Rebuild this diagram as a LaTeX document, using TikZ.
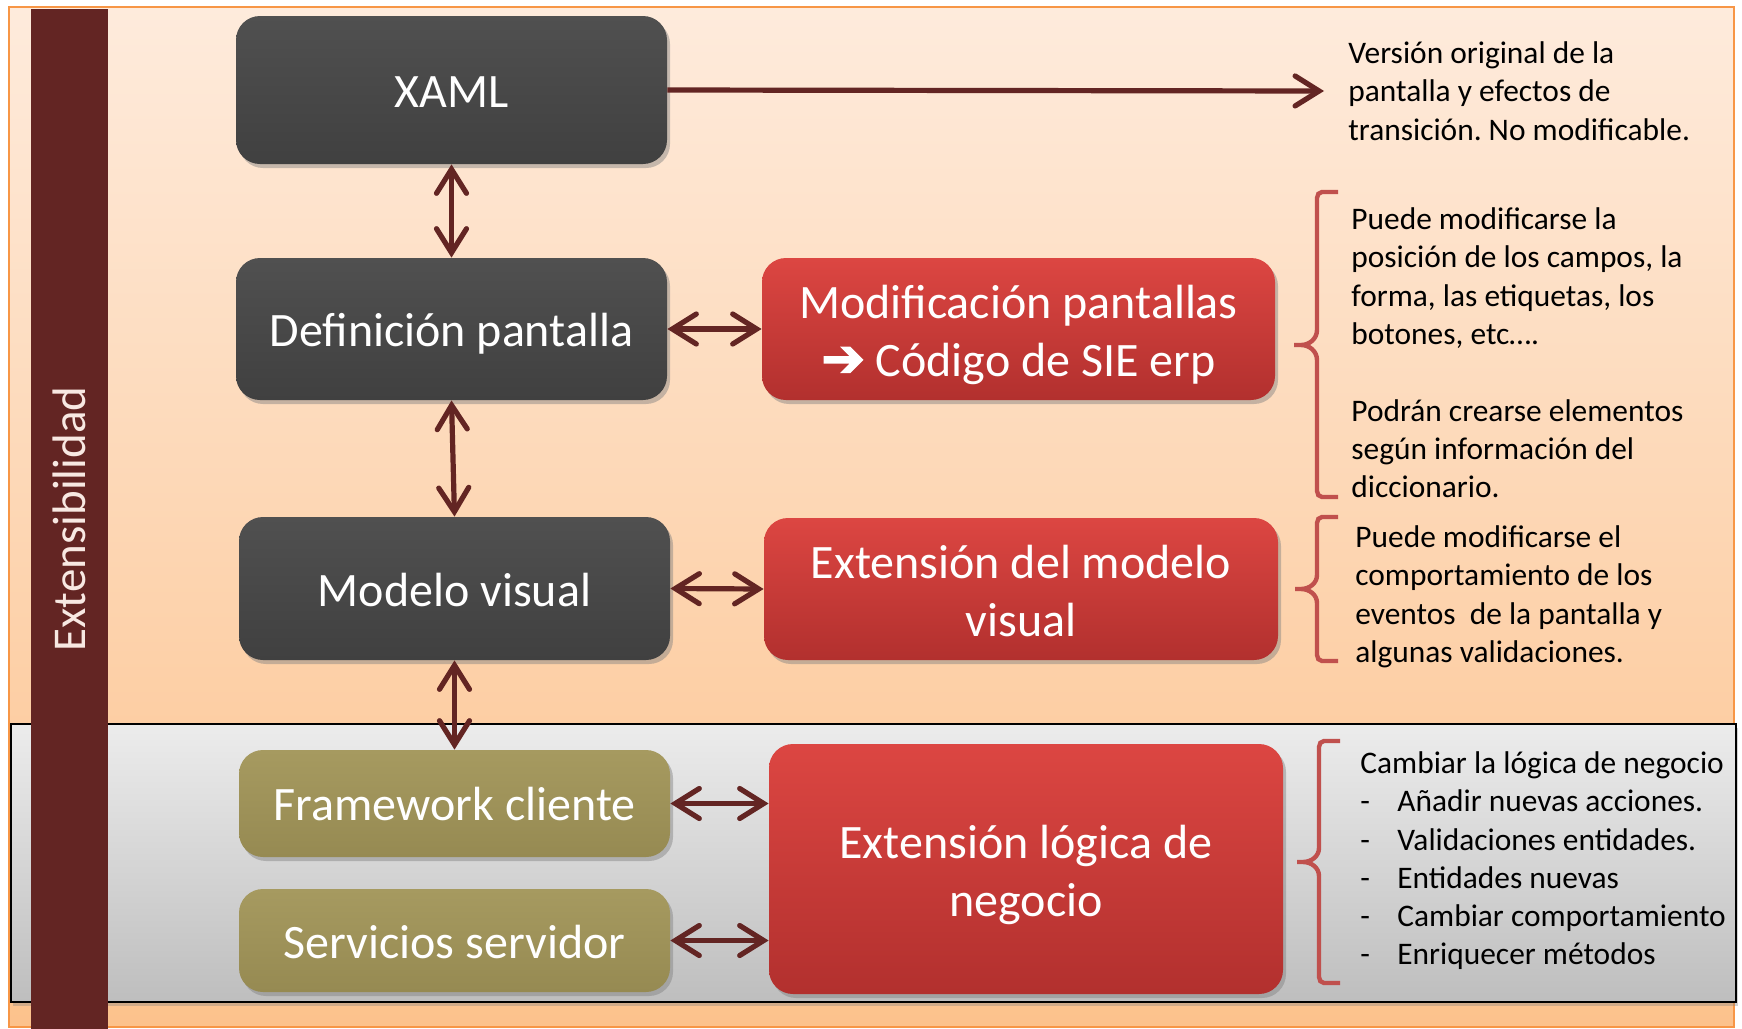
\documentclass[tikz,border=0pt]{standalone}
\usepackage{fontspec}
\setmainfont{Carlito}
\newfontfamily\symfont[FakeBold=3]{DejaVu Sans}
\usetikzlibrary{arrows.meta,shadows}
\frenchspacing
\definecolor{arrowred}{HTML}{632523}
\definecolor{brk}{HTML}{C0504D}
\definecolor{frameorange}{HTML}{F79646}
\definecolor{redtop}{RGB}{220,70,66}
\definecolor{redbot}{RGB}{178,48,46}
\definecolor{olivetop}{RGB}{166,154,96}
\definecolor{olivebot}{RGB}{150,138,82}
\definecolor{darktop}{RGB}{80,80,80}
\definecolor{darkbot}{RGB}{64,64,64}
\definecolor{bgtop}{RGB}{254,235,220}
\definecolor{bgbot}{RGB}{252,194,140}
\definecolor{graytop}{RGB}{236,236,236}
\definecolor{graybot}{RGB}{190,190,190}
\definecolor{barlabel}{RGB}{248,232,226}
\newcommand\bxtext[2]{\raisebox{#1}[\height][\depth]{\begin{tabular}{@{}c@{}}#2\end{tabular}}}
\begin{document}
\begin{tikzpicture}[x=0.5pt,y=-0.5pt,
  box/.style={rounded corners=12pt, inner sep=0pt, text=white, align=center,
    font=\fontsize{24}{29}\selectfont,
    drop shadow={opacity=0.45,shadow xshift=1.5pt,shadow yshift=-2pt}},
  darkbox/.style={box, top color=darktop, bottom color=darkbot},
  redbox/.style={box, top color=redtop, bottom color=redbot},
  olivebox/.style={box, top color=olivetop, bottom color=olivebot},
  desc/.style={anchor=base west, inner sep=0pt, text=black, font=\fontsize{15.7}{19}\selectfont},
  conn/.style={draw=arrowred, line width=2.6pt, {Straight Barb[length=12pt,width=15pt,line cap=round]}-{Straight Barb[length=12pt,width=15pt,line cap=round]}},
  brace/.style={draw=brk, line width=2.2pt, line cap=butt}
]
\useasboundingbox (0,0) rectangle (1742,1029);
\fill[white] (0,0) rectangle (1742,1029);
% orange frame
\draw[frameorange, line width=1.2pt, top color=bgtop, bottom color=bgbot] (9,7) rectangle (1734,1027);
% gray band
\draw[black, line width=1pt, top color=graytop, bottom color=graybot, drop shadow={opacity=0.35,shadow xshift=1pt,shadow yshift=-2pt}] (11,724) rectangle (1736,1002);
% vertical bar
\fill[arrowred] (31,9) rectangle (108,1029);
\node[rotate=90, inner sep=0pt, text=barlabel, font=\fontsize{23.5}{28}\selectfont] (extlabel) at (69,519) {Extensibilidad};

% boxes
\node[darkbox, minimum width=215.5pt, minimum height=74pt] (xaml) at (451.5,90) {\bxtext{-3pt}{XAML}};
\node[darkbox, minimum width=215.5pt, minimum height=71pt] (def) at (451.5,329) {\bxtext{-3pt}{Definición pantalla}};
\node[darkbox, minimum width=215.5pt, minimum height=71.5pt] (mv) at (454.5,588.5) {\bxtext{-3pt}{Modelo visual}};
\node[olivebox, minimum width=215.5pt, minimum height=53.5pt] (fw) at (454.5,803.5) {\bxtext{-2.5pt}{Framework cliente}};
\node[olivebox, minimum width=215.5pt, minimum height=51.5pt] (sv) at (454.5,940.5) {\bxtext{-3pt}{Servicios servidor}};
\node[redbox, minimum width=256.5pt, minimum height=71pt] (mod) at (1018.5,329) {\bxtext{-3.3pt}{Modificación pantallas\\{\symfont\fontsize{26}{29}\selectfont ➔} Código de SIE erp}};
\node[redbox, minimum width=257pt, minimum height=71pt] (emv) at (1021,589) {\bxtext{-3.3pt}{Extensión del modelo\\visual}};
\node[redbox, minimum width=257pt, minimum height=125pt] (el) at (1026,869) {\bxtext{-3.5pt}{Extensión lógica de\\negocio}};

% connectors
\coordinate (xend) at (1324,91);
\draw[draw=arrowred, line width=2.6pt, -{Straight Barb[length=12pt,width=15pt,line cap=round]}] (xaml.east) -- (xend);
\draw[conn] (xaml.south) -- (def.north);
\draw[conn] (def.south) -- (mv.north);
\draw[conn] (mv.south) -- (fw.north);
\draw[conn] (def.east) -- (mod.west);
\draw[conn] (mv.east) -- (emv.west);
\draw[conn] (fw.east) -- (fw.east -| el.west);
\draw[conn] (sv.east) -- (sv.east -| el.west);

% text 1
\node[desc] (t1a) at (1348,63) {Versión original de la};
\node[desc] (t1b) at (1348,101) {pantalla y efectos de};
\node[desc] (t1c) at (1348,140) {transición. No modificable.};

% bracket 1
\draw[brace] (1338,192) -- (1322,192) to[out=180,in=90] (1317,198) -- (1317,330) to[out=-90,in=0] (1301,345) -- (1294,345) -- (1301,345) to[out=0,in=90] (1317,360) -- (1317,491) to[out=-90,in=180] (1322,497) -- (1338,497);
\node[desc] (t2a) at (1351,229) {Puede modificarse la};
\node[desc] (t2b) at (1351,267) {posición de los campos, la};
\node[desc] (t2c) at (1351,306) {forma, las etiquetas, los};
\node[desc] (t2d) at (1351,344) {botones, etc….};
\node[desc] (t2e) at (1351,421) {Podrán crearse elementos};
\node[desc] (t2f) at (1351,459) {según información del};
\node[desc] (t2g) at (1351,497) {diccionario.};

% bracket 2
\draw[brace] (1338,517) -- (1322,517) to[out=180,in=90] (1317,523) -- (1317,575) to[out=-90,in=0] (1301,589) -- (1295,589) -- (1301,589) to[out=0,in=90] (1317,603) -- (1317,655) to[out=-90,in=180] (1322,661) -- (1338,661);
\node[desc] (t3a) at (1355,547) {Puede modificarse el};
\node[desc] (t3b) at (1355,585) {comportamiento de los};
\node[desc] (t3c) at (1355,624) {eventos\ \ de la pantalla y};
\node[desc] (t3d) at (1355,662) {algunas validaciones.};

% bracket 3
\draw[brace] (1340,741) -- (1324,741) to[out=180,in=90] (1319,747) -- (1319,848) to[out=-90,in=0] (1303,862) -- (1297,862) -- (1303,862) to[out=0,in=90] (1319,876) -- (1319,977) to[out=-90,in=180] (1324,983) -- (1340,983);
\node[desc] (t4a) at (1360,773) {Cambiar la lógica de negocio};
\node[desc] (d1) at (1360,811) {-};
\node[desc] (t4b) at (1397,811) {Añadir nuevas acciones.};
\node[desc] (d2) at (1360,850) {-};
\node[desc] (t4c) at (1397,850) {Validaciones entidades.};
\node[desc] (d3) at (1360,888) {-};
\node[desc] (t4d) at (1397,888) {Entidades nuevas};
\node[desc] (d4) at (1360,926) {-};
\node[desc] (t4e) at (1397,926) {Cambiar comportamiento};
\node[desc] (d5) at (1360,964) {-};
\node[desc] (t4f) at (1397,964) {Enriquecer métodos};
\end{tikzpicture}
\end{document}
